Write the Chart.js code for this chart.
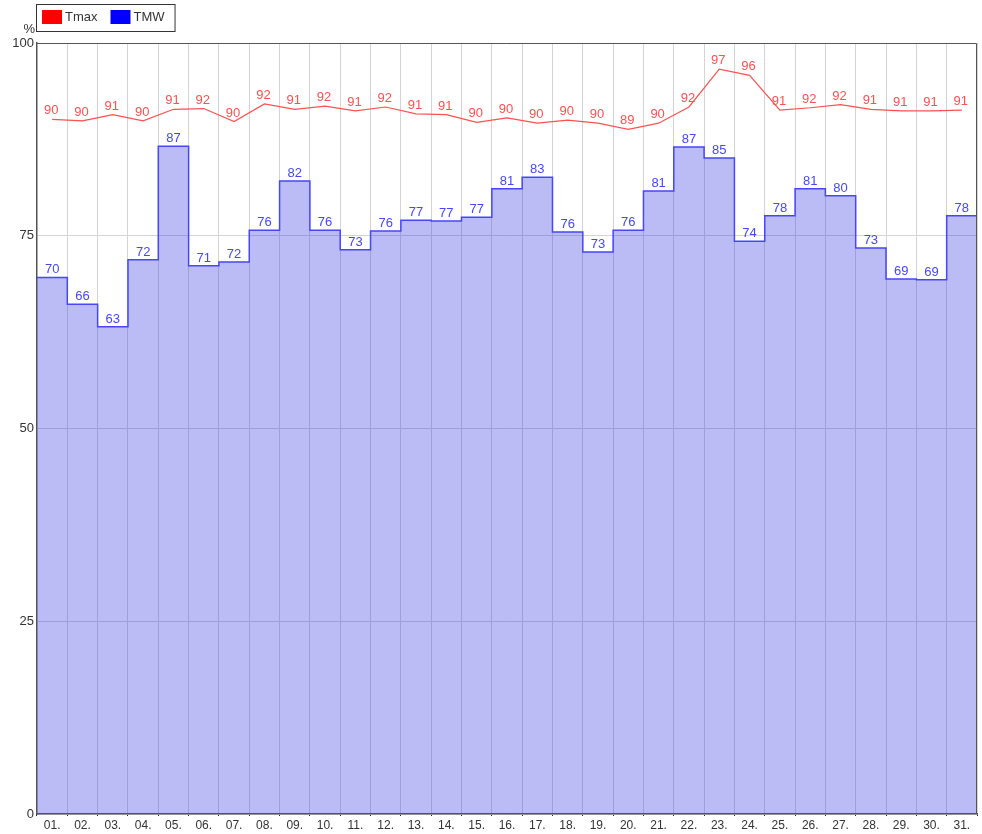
<!DOCTYPE html>
<html>
<head>
<meta charset="utf-8">
<script src="https://cdn.jsdelivr.net/npm/chart.js@4.4.1/dist/chart.umd.min.js"></script>
<style>
  body { margin: 0; background: #fff; }
  canvas { display: block; }
</style>
</head>
<body>
<canvas id="chart" width="982" height="834"></canvas>
<script>
// data
const days = ['01.', '02.', '03.', '04.', '05.', '06.', '07.', '08.', '09.', '10.',
  '11.', '12.', '13.', '14.', '15.', '16.', '17.', '18.', '19.', '20.',
  '21.', '22.', '23.', '24.', '25.', '26.', '27.', '28.', '29.', '30.', '31.'];
const tmax = [90.1, 89.9, 90.7, 89.9, 91.4, 91.5, 89.8, 92.1, 91.4, 91.8,
  91.2, 91.7, 90.8, 90.7, 89.7, 90.3, 89.6, 90.0, 89.6, 88.8,
  89.6, 91.7, 96.6, 95.8, 91.3, 91.6, 92.0, 91.4, 91.2, 91.2, 91.3];
const tmw = [69.6, 66.1, 63.2, 71.9, 86.6, 71.1, 71.6, 75.7, 82.1, 75.7,
  73.2, 75.6, 77.0, 76.9, 77.4, 81.1, 82.6, 75.5, 72.9, 75.7,
  80.8, 86.5, 85.1, 74.3, 77.6, 81.1, 80.2, 73.4, 69.4, 69.3, 77.6];
const yTicks = [0, 25, 50, 75, 100];
const yUnit = '%';

const FONT = '"Liberation Sans", Arial, sans-serif';
const RED = 'rgb(255, 80, 80)';
const BLUE = 'rgb(70, 70, 255)';

// each day becomes a flat step from its left edge to its right edge
const stepPoints = [];
tmw.forEach((v, i) => {
  stepPoints.push({ x: i, y: v });
  stepPoints.push({ x: i + 1, y: v });
});
const linePoints = tmax.map((v, i) => ({ x: i + 0.5, y: v }));

// value labels above each day
const valueLabels = {
  id: 'valueLabels',
  afterDatasetsDraw(chart) {
    const { ctx, scales } = chart;
    const xs = scales.xs, y = scales.y;
    ctx.save();
    ctx.font = '13px ' + FONT;
    ctx.textAlign = 'center';
    ctx.textBaseline = 'bottom';
    ctx.fillStyle = BLUE;
    tmw.forEach((v, i) => {
      ctx.fillText(Math.round(v), xs.getPixelForValue(i + 0.5), y.getPixelForValue(v) - 1);
    });
    ctx.fillStyle = RED;
    tmax.forEach((v, i) => {
      ctx.fillText(Math.round(v), xs.getPixelForValue(i + 0.5) - 1, y.getPixelForValue(v) - 2);
    });
    ctx.restore();
  }
};

// frame on top/right of the plot, legend box and unit label
const decorations = {
  id: 'decorations',
  afterDraw(chart) {
    const { ctx, chartArea: a } = chart;
    ctx.save();
    ctx.strokeStyle = '#555';
    ctx.lineWidth = 1;
    ctx.beginPath();
    ctx.moveTo(a.left, a.top + 0.5);
    ctx.lineTo(a.right - 0.5, a.top + 0.5);
    ctx.lineTo(a.right - 0.5, a.bottom);
    ctx.stroke();

    ctx.font = '13px ' + FONT;
    ctx.fillStyle = '#333';
    ctx.textAlign = 'right';
    ctx.textBaseline = 'alphabetic';
    ctx.fillText(yUnit, 35, 33);

    ctx.textAlign = 'left';
    ctx.textBaseline = 'middle';
    let x = 42;
    chart.data.datasets.forEach(ds => {
      ctx.fillStyle = ds.legendColor;
      ctx.fillRect(x, 10, 20, 14);
      ctx.fillStyle = '#333';
      ctx.fillText(ds.label, x + 23, 17);
      x += 23 + ctx.measureText(ds.label).width + 13;
    });
    ctx.strokeStyle = '#333';
    ctx.strokeRect(36.5, 4.5, x - 13 + 10 - 36, 27);
    ctx.restore();
  }
};

new Chart(document.getElementById('chart'), {
  type: 'line',
  data: {
    labels: days,
    datasets: [
      {
        label: 'Tmax',
        data: linePoints,
        xAxisID: 'xs',
        borderColor: RED,
        borderWidth: 1.2,
        pointRadius: 0,
        fill: false,
        tension: 0,
        legendColor: 'rgb(255, 0, 0)'
      },
      {
        label: 'TMW',
        data: stepPoints,
        xAxisID: 'xs',
        borderColor: BLUE,
        borderWidth: 1.5,
        backgroundColor: 'rgba(60, 60, 230, 0.35)',
        pointRadius: 0,
        fill: 'origin',
        tension: 0,
        legendColor: 'rgb(0, 0, 255)'
      }
    ]
  },
  options: {
    responsive: false,
    animation: false,
    layout: { padding: { top: 43, right: 5, left: 0, bottom: 0 } },
    plugins: {
      legend: { display: false },
      tooltip: { enabled: false }
    },
    scales: {
      x: {
        type: 'category',
        offset: true,
        grid: { offset: true, color: '#d4d4d4', tickColor: '#222', tickLength: 2 },
        border: { color: '#555', width: 1.5 },
        ticks: { color: '#333', font: { size: 12, family: FONT }, padding: 2, maxRotation: 0, autoSkip: false },
        afterFit(scale) { scale.height = 20; }
      },
      xs: {
        type: 'linear',
        display: false,
        min: 0,
        max: days.length
      },
      y: {
        min: 0,
        max: 100,
        afterBuildTicks(scale) { scale.ticks = yTicks.map(v => ({ value: v })); },
        grid: { color: '#d4d4d4', drawTicks: false },
        border: { color: '#555', width: 1.5 },
        ticks: { color: '#333', font: { size: 13, family: FONT }, padding: 3 },
        afterFit(scale) { scale.width = 37; }
      }
    }
  },
  plugins: [valueLabels, decorations]
});
</script>
</body>
</html>
